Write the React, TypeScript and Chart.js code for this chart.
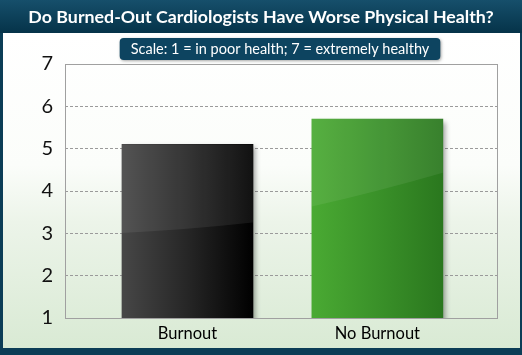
import React, { useEffect, useRef } from "react";
import { Chart, registerables } from "chart.js";

Chart.register(...registerables);

const TITLE = "Do Burned-Out Cardiologists Have Worse Physical Health?";
const SUBTITLE = "Scale: 1 = in poor health; 7 = extremely healthy";
const categories = ["Burnout", "No Burnout"];
const values = [5.1, 5.7];
const yTicks = [1, 2, 3, 4, 5, 6, 7];

const FONT = "Lato, 'Open Sans', sans-serif";
const NAVY = "#0b3d56";

const framePlugin = {
  id: "frame",
  beforeDraw(chart: any) {
    const { ctx, width, height } = chart;
    ctx.save();
    ctx.fillStyle = NAVY;
    ctx.fillRect(0, 0, width, height);
    const g = ctx.createLinearGradient(0, 33, 0, 348);
    g.addColorStop(0, "#ffffff");
    g.addColorStop(0.42, "#fbfdfa");
    g.addColorStop(0.6, "#ecf4e9");
    g.addColorStop(1, "#d9ead4");
    ctx.fillStyle = g;
    ctx.fillRect(3, 33, width - 5, 348 - 33);
    const tg = ctx.createLinearGradient(0, 0, 0, 33);
    tg.addColorStop(0, "#164f6b");
    tg.addColorStop(1, "#053349");
    ctx.fillStyle = tg;
    ctx.fillRect(0, 0, width, 33);
    ctx.fillStyle = "#ffffff";
    ctx.textAlign = "center";
    ctx.textBaseline = "middle";
    ctx.font = `bold 17.8px ${FONT}`;
    ctx.fillText(TITLE, 261, 17);
    ctx.font = `14.5px ${FONT}`;
    const tw = ctx.measureText(SUBTITLE).width;
    const bw = tw + 22;
    const cx = 280;
    const bx = cx - bw / 2;
    const by = 38;
    const bh = 22;
    ctx.save();
    ctx.shadowColor = "rgba(0,0,0,0.35)";
    ctx.shadowBlur = 3;
    ctx.shadowOffsetX = 1;
    ctx.shadowOffsetY = 1;
    ctx.fillStyle = "#0d4460";
    ctx.beginPath();
    ctx.roundRect(bx, by, bw, bh, 4);
    ctx.fill();
    ctx.restore();
    ctx.fillStyle = "#ffffff";
    ctx.fillText(SUBTITLE, cx, by + bh / 2 + 0.5);
    ctx.restore();
  },
  beforeDatasetsDraw(chart: any) {
    const { ctx, chartArea } = chart;
    ctx.save();
    ctx.strokeStyle = "#a0a0a0";
    ctx.lineWidth = 1;
    ctx.strokeRect(
      Math.round(chartArea.left) + 0.5,
      Math.round(chartArea.top) + 0.5,
      Math.round(chartArea.right - chartArea.left),
      Math.round(chartArea.bottom - chartArea.top)
    );
    ctx.restore();
    ctx.save();
    ctx.shadowColor = "rgba(0,0,0,0.35)";
    ctx.shadowBlur = 5;
    ctx.shadowOffsetX = 3;
    ctx.shadowOffsetY = 3;
  },
  afterDatasetsDraw(chart: any) {
    const { ctx } = chart;
    ctx.restore();
    const meta = chart.getDatasetMeta(0);
    const ys = chart.scales.y;
    meta.data.forEach((bar: any, i: number) => {
      const p = bar.getProps(["x", "width"], true);
      const l = p.x - p.width / 2;
      const r = p.x + p.width / 2;
      const top = ys.getPixelForValue(values[i]);
      const base = ys.getPixelForValue(ys.min);
      const h = base - top;
      const leftY = top + h * (i === 0 ? 0.51 : 0.44);
      const rightY = top + h * (i === 0 ? 0.45 : 0.27);
      ctx.save();
      ctx.beginPath();
      ctx.moveTo(l, top);
      ctx.lineTo(r, top);
      ctx.lineTo(r, rightY);
      ctx.quadraticCurveTo((l + r) / 2, (leftY + rightY) / 2 + 2, l, leftY);
      ctx.closePath();
      ctx.fillStyle = "rgba(255,255,255,0.07)";
      ctx.fill();
      ctx.restore();
    });
  },
};

export default function App() {
  const ref = useRef<HTMLCanvasElement>(null);
  useEffect(() => {
    const prevMargin = document.body.style.margin;
    document.body.style.margin = "0";
    const chart = new Chart(ref.current!, {
      type: "bar",
      data: {
        datasets: [
          {
            data: values.map((v, i) => ({ x: i, y: v })),
            backgroundColor: (c: any) => {
              const ch = c.chart;
              const i = c.dataIndex ?? 0;
              const fallback = i === 0 ? "#222" : "#3a9129";
              const xs = ch.scales?.x;
              if (!xs) return fallback;
              const cx = xs.getPixelForValue(i);
              if (!Number.isFinite(cx)) return fallback;
              const half = 66;
              const g = ch.ctx.createLinearGradient(cx - half, 0, cx + half, 0);
              if (i === 0) {
                g.addColorStop(0, "#474747");
                g.addColorStop(0.5, "#262626");
                g.addColorStop(1, "#000000");
              } else {
                g.addColorStop(0, "#4aaa33");
                g.addColorStop(0.5, "#3a9129");
                g.addColorStop(1, "#2a771e");
              }
              return g;
            },
            borderWidth: 0,
            barThickness: 131,
          },
        ],
      },
      options: {
        animation: false,
        responsive: false,
        layout: { padding: { top: 64, left: 3, right: 25, bottom: 7 } },
        plugins: {
          legend: { display: false },
          tooltip: { enabled: false },
        },
        scales: {
          x: {
            type: "linear",
            offset: false,
            min: -0.645,
            max: 1.63,
            afterBuildTicks: (s: any) => {
              s.ticks = categories.map((_, i) => ({ value: i }));
            },
            afterFit: (s: any) => {
              s.height = 30;
            },
            ticks: {
              callback: (v: any) => categories[v] ?? "",
              color: "#000",
              font: { family: FONT, size: 16.5 },
              padding: 6,
              autoSkip: false,
              maxRotation: 0,
            },
            grid: { display: false, drawTicks: false, offset: false },
            border: { display: false },
          },
          y: {
            min: 1,
            max: 7,
            afterBuildTicks: (s: any) => {
              s.ticks = yTicks.map((v) => ({ value: v }));
            },
            afterFit: (s: any) => {
              s.width = 62;
            },
            ticks: {
              color: "#111",
              font: { family: FONT, size: 20 },
              padding: 12,
            },
            grid: {
              drawTicks: false,
              color: (c: any) =>
                c.tick && (c.tick.value === 1 || c.tick.value === 7)
                  ? "rgba(0,0,0,0)"
                  : "#9a9a9a",
              lineWidth: 1,
            },
            border: { display: false, dash: [3, 2] },
          },
        },
      },
      plugins: [framePlugin],
    });
    return () => {
      chart.destroy();
      document.body.style.margin = prevMargin;
    };
  }, []);
  return (
    <div style={{ width: 522, height: 355 }}>
      <canvas ref={ref} width={522} height={355} style={{ display: "block" }} />
    </div>
  );
}
